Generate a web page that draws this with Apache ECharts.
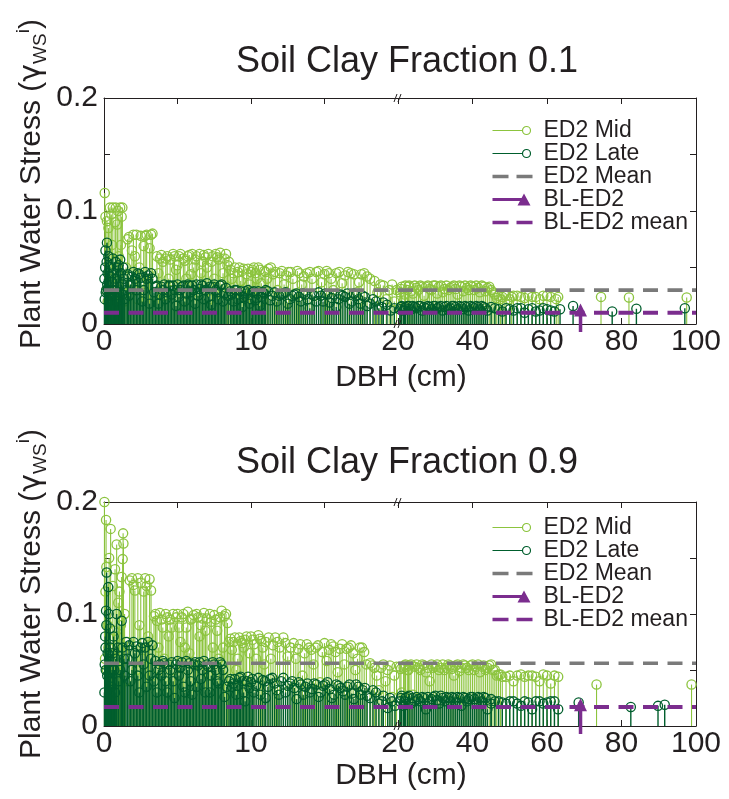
<!DOCTYPE html>
<html>
<head>
<meta charset="utf-8">
<title>Plant water stress vs DBH</title>
<script src="https://cdn.jsdelivr.net/npm/echarts@6/dist/echarts.min.js"></script>
<style>
  html, body { margin: 0; padding: 0; background: #fff; }
  #chart { width: 729px; height: 799px; }
</style>
</head>
<body>
<div id="chart"></div>
<script>
// ---- values, [DBH (cm), water stress] ----
const clay01Mid = [
  [0.05,0.116],[0.1,0.095],[0.15,0.03],[0.2,0.091],[0.25,0.02],[0.3,0.085],[0.4,0.103],[0.45,0.04],[0.55,0.07],[0.6,0.103],
  [0.7,0.025],[0.8,0.103],[0.9,0.088],[1.0,0.06],[1.1,0.103],[1.2,0.095],[1.3,0.035],[1.4,0.02],
  [1.6,0.075],[1.8,0.03],[2.0,0.079],[2.1,0.06],[2.3,0.022],[2.5,0.078],[2.7,0.069],[2.9,0.079],[3.0,0.04],[3.2,0.079],[3.4,0.025],
  [3.6,0.06],[3.8,0.058],[4.0,0.055],[4.1,0.025],[4.3,0.06],[4.5,0.057],[4.6,0.03],[4.8,0.06],[5.0,0.052],[5.2,0.062],
  [5.3,0.02],[5.5,0.056],[5.7,0.06],[5.9,0.044],[6.0,0.062],[6.2,0.057],[6.4,0.028],[6.5,0.062],[6.7,0.055],[6.9,0.059],
  [7.0,0.05],[7.2,0.022],[7.4,0.06],[7.6,0.062],[7.8,0.057],[8.0,0.035],[8.2,0.058],[8.4,0.052],
  [8.6,0.048],[8.8,0.045],[9.0,0.03],[9.2,0.05],[9.4,0.047],[9.6,0.025],[9.8,0.049],[10.0,0.046],[10.2,0.05],[10.4,0.04],
  [10.6,0.048],[10.8,0.02],[11.0,0.046],[11.2,0.049],[11.5,0.044],[11.8,0.03],
  [12.1,0.047],[12.4,0.043],[12.7,0.046],[13.0,0.027],[13.3,0.045],[13.6,0.042],[14.0,0.046],[14.3,0.025],[14.6,0.047],
  [15.0,0.044],[15.3,0.045],[15.6,0.03],[16.0,0.046],[16.4,0.043],[16.8,0.045],[17.2,0.028],[17.5,0.044],[17.9,0.042],
  [18.4,0.038],[18.8,0.035],[19.2,0.022],[19.6,0.035],[19.9,0.03],
  [0.35,0.06],[0.5,0.097],[0.65,0.045],[0.75,0.09],[0.95,0.1],[1.05,0.03],[1.15,0.07],[1.25,0.103],[1.5,0.05],[1.7,0.077],
  [1.9,0.065],[2.2,0.079],[2.4,0.05],[2.6,0.035],[2.8,0.078],[3.1,0.067],[3.3,0.08],[3.7,0.045],[3.9,0.061],[4.2,0.058],
  [4.4,0.04],[4.7,0.062],[4.9,0.048],[5.1,0.06],[5.4,0.058],[5.6,0.04],[5.8,0.061],[6.1,0.05],[6.3,0.06],[6.6,0.045],
  [6.8,0.061],[7.1,0.062],[7.3,0.055],[7.5,0.04],[7.7,0.059],[7.9,0.063],[8.1,0.045],[8.3,0.062],[8.5,0.055],[8.7,0.04],
  [8.9,0.05],[9.1,0.046],[9.3,0.038],[9.5,0.049],[9.7,0.044],[9.9,0.035],[10.1,0.048],[10.3,0.045],[10.5,0.05],[10.7,0.036],
  [10.9,0.047],[11.1,0.04],[11.35,0.05],[11.65,0.046],[11.95,0.045],[12.25,0.035],[12.55,0.046],[12.85,0.04],[13.15,0.047],
  [13.45,0.035],[13.8,0.045],[14.15,0.04],[14.45,0.046],[14.8,0.037],[15.15,0.047],[15.45,0.04],[15.8,0.045],[16.2,0.036],
  [16.6,0.046],[17.0,0.044],[17.35,0.037],[17.7,0.045],[18.1,0.04],[18.6,0.028],[19.0,0.034],[19.4,0.03],[19.75,0.02],
  [20.5,0.028],[21,0.033],[21.5,0.02],[22,0.034],[22.5,0.03],[23,0.034],[24,0.027],[24.5,0.034],[25,0.032],[26,0.034],
  [27,0.025],[27.5,0.033],[28,0.034],[29,0.03],[30,0.034],[31,0.033],[32,0.028],[33,0.034],[34,0.032],[35,0.034],
  [36,0.026],[37,0.033],[38,0.034],[39,0.03],[40,0.033],[41,0.034],[42,0.028],[43,0.033],[44,0.032],[45,0.03],
  [46,0.026],[47,0.025],[48,0.024],[49,0.025],[50,0.022],[51,0.025],[53,0.024],[55,0.025],[57,0.024],[59,0.025],
  [61,0.024],[62.5,0.022],[74.5,0.024],[82,0.0235],[97.5,0.0235],
  [20.8,0.031],[21.8,0.026],[22.8,0.033],[23.5,0.029],[25.5,0.03],[26.5,0.033],[28.5,0.031],[29.5,0.034],[30.5,0.027],
  [31.5,0.034],[32.5,0.031],[33.5,0.03],[34.5,0.033],[35.5,0.031],[36.5,0.034],[37.5,0.029],[38.5,0.032],[39.5,0.034],
  [40.5,0.03],[41.5,0.032],[42.5,0.034],[43.5,0.029],[44.5,0.033],[45.5,0.028],[46.5,0.023],[47.5,0.022],[48.5,0.026],
  [50.5,0.024],[52,0.025],[54,0.023],[56,0.024],[58,0.022],[60,0.025],[63,0.024]
];
const clay01Late = [
  [0.05,0.022],[0.08,0.05],[0.1,0.065],[0.15,0.03],[0.2,0.072],[0.25,0.045],[0.3,0.06],[0.35,0.02],[0.45,0.042],[0.5,0.025],
  [0.6,0.058],[0.7,0.03],[0.8,0.055],[0.9,0.02],[1.0,0.052],[1.1,0.057],[1.2,0.035],[1.3,0.05],[1.4,0.022],
  [1.6,0.044],[1.7,0.025],[1.9,0.042],[2.0,0.046],[2.2,0.03],[2.3,0.045],[2.5,0.041],[2.6,0.02],[2.8,0.046],[3.0,0.043],
  [3.1,0.018],[3.3,0.04],
  [3.6,0.034],[3.7,0.018],[3.9,0.033],[4.1,0.035],[4.2,0.022],[4.4,0.034],[4.6,0.026],[4.7,0.034],[4.9,0.016],[5.0,0.035],
  [5.2,0.03],[5.4,0.034],[5.5,0.02],[5.7,0.035],[5.9,0.028],[6.0,0.034],[6.2,0.018],[6.3,0.035],[6.5,0.031],[6.7,0.034],
  [6.8,0.022],[7.0,0.036],[7.2,0.033],[7.3,0.017],[7.5,0.035],[7.7,0.028],[7.9,0.034],[8.1,0.02],[8.3,0.032],
  [8.6,0.029],[8.8,0.02],[9.0,0.03],[9.2,0.026],[9.4,0.015],[9.6,0.029],[9.8,0.03],[10.0,0.022],[10.2,0.029],[10.4,0.027],
  [10.6,0.016],[10.8,0.028],[11.0,0.03],[11.3,0.021],[11.6,0.028],[11.9,0.025],
  [12.2,0.027],[12.5,0.018],[12.8,0.025],[13.1,0.027],[13.4,0.02],[13.7,0.026],[14.0,0.014],[14.3,0.025],[14.6,0.028],
  [14.9,0.02],[15.2,0.026],[15.5,0.023],[15.8,0.015],[16.1,0.026],[16.4,0.024],[16.7,0.018],[17.0,0.027],[17.3,0.022],
  [17.6,0.025],[17.9,0.016],[18.3,0.022],[18.7,0.014],[19.0,0.019],[19.5,0.012],
  [0.03,0.04],[0.12,0.028],[0.18,0.055],[0.22,0.035],[0.28,0.03],[0.4,0.05],[0.55,0.03],[0.65,0.045],[0.75,0.025],[0.85,0.04],
  [0.95,0.05],[1.05,0.028],[1.15,0.045],[1.25,0.026],[1.35,0.04],[1.5,0.03],[1.65,0.042],[1.8,0.035],[2.1,0.04],[2.4,0.044],
  [2.7,0.03],[2.9,0.04],[3.2,0.045],[3.4,0.028],[3.5,0.033],[3.8,0.026],[4.0,0.03],[4.3,0.028],[4.5,0.034],[4.8,0.03],
  [5.1,0.024],[5.3,0.033],[5.6,0.027],[5.8,0.034],[6.1,0.03],[6.4,0.025],[6.6,0.035],[6.9,0.03],[7.1,0.024],[7.4,0.033],
  [7.6,0.03],[7.8,0.022],[8.0,0.035],[8.2,0.027],[8.45,0.025],[8.7,0.026],[8.9,0.03],[9.1,0.022],[9.3,0.029],[9.5,0.024],
  [9.7,0.027],[9.9,0.018],[10.1,0.028],[10.3,0.021],[10.5,0.029],[10.7,0.024],[10.9,0.027],[11.15,0.029],[11.45,0.025],
  [11.75,0.02],[12.05,0.026],[12.35,0.028],[12.65,0.022],[12.95,0.026],[13.25,0.024],[13.55,0.027],[13.85,0.022],
  [14.15,0.026],[14.45,0.02],[14.75,0.025],[15.05,0.027],[15.35,0.019],[15.65,0.026],[15.95,0.022],[16.25,0.025],
  [16.55,0.027],[16.85,0.02],[17.15,0.025],[17.45,0.018],[17.75,0.024],[18.1,0.018],[18.5,0.02],[18.9,0.015],[19.25,0.017],
  [19.75,0.014],
  [20.5,0.013],[21,0.016],[21.5,0.012],[22,0.015],[23,0.016],[23.5,0.013],[24,0.016],[25,0.014],[26,0.016],[26.5,0.012],
  [27,0.015],[28,0.016],[29,0.013],[30,0.016],[31,0.015],[32,0.012],[33,0.016],[34,0.014],[35,0.016],[36,0.013],
  [37,0.015],[38,0.016],[39,0.012],[40,0.015],[41,0.016],[42,0.013],[43,0.015],[44,0.012],[46,0.014],[48,0.011],
  [50,0.013],[52,0.014],[54,0.01],[56,0.014],[58,0.012],[60,0.013],[62,0.011],[63.5,0.013],[67,0.016],[77.5,0.011],
  [84,0.0135],[97,0.014],
  [20.8,0.015],[21.8,0.014],[22.5,0.016],[24.5,0.015],[25.5,0.016],[27.5,0.014],[28.5,0.015],[29.5,0.016],[30.5,0.014],
  [31.5,0.016],[32.5,0.015],[33.5,0.013],[34.5,0.016],[35.5,0.015],[36.5,0.016],[37.5,0.013],[38.5,0.015],[39.5,0.016],
  [40.5,0.014],[41.5,0.015],[42.5,0.016],[43.5,0.014],[45,0.015],[47,0.013],[49,0.014],[51,0.012],[53,0.014],[55,0.013],
  [57,0.011],[59,0.014],[61,0.012]
];
const clay01BL = [[69, 0.012]];

const clay09Mid = [
  [0.03,0.2],[0.07,0.06],[0.14,0.184],[0.16,0.142],[0.2,0.05],[0.3,0.07],[0.45,0.176],[0.55,0.04],[0.7,0.085],[0.86,0.162],
  [0.97,0.11],[1.1,0.055],[1.2,0.133],[1.27,0.149],[1.3,0.172],[1.32,0.163],[1.45,0.04],
  [1.9,0.132],[2.0,0.126],[2.2,0.05],[2.3,0.132],[2.5,0.128],[2.6,0.06],[2.8,0.132],[2.9,0.125],[3.1,0.131],[3.2,0.121],[3.3,0.045],
  [3.5,0.1],[3.6,0.094],[3.8,0.101],[4.0,0.088],[4.1,0.06],[4.3,0.097],[4.5,0.095],[4.7,0.1],[4.8,0.05],[5.0,0.1],
  [5.1,0.088],[5.3,0.097],[5.5,0.07],[5.7,0.102],[5.9,0.095],[6.1,0.099],[6.2,0.055],[6.4,0.097],[6.6,0.09],[6.8,0.101],
  [7.0,0.096],[7.1,0.045],[7.3,0.093],[7.5,0.099],[7.8,0.06],[8.0,0.103],[8.2,0.098],[8.4,0.092],
  [8.6,0.078],[8.8,0.075],[9.0,0.05],[9.2,0.079],[9.4,0.074],[9.6,0.077],[9.8,0.04],[10.0,0.08],[10.2,0.073],[10.5,0.081],
  [10.7,0.076],[10.9,0.055],[11.2,0.079],[11.5,0.072],[11.8,0.075],[12.2,0.079],[12.5,0.062],
  [12.9,0.074],[13.2,0.069],[13.5,0.045],[13.8,0.073],[14.1,0.068],[14.4,0.07],[14.7,0.039],[15.0,0.074],[15.3,0.068],
  [15.6,0.071],[15.9,0.048],[16.2,0.073],[16.5,0.069],[16.8,0.072],[17.1,0.05],[17.4,0.07],[17.7,0.066],
  [18.1,0.056],[18.4,0.052],[18.7,0.032],[19.0,0.055],[19.3,0.05],[19.6,0.026],[19.9,0.053],
  [0.1,0.12],[0.25,0.09],[0.35,0.15],[0.5,0.065],[0.6,0.125],[0.75,0.14],[0.9,0.08],[1.05,0.12],[1.15,0.09],[1.4,0.1],
  [1.6,0.075],[1.75,0.13],[2.1,0.121],[2.4,0.09],[2.7,0.12],[3.0,0.08],[3.4,0.098],[3.7,0.07],[3.9,0.095],[4.2,0.1],
  [4.4,0.08],[4.6,0.088],[4.9,0.097],[5.2,0.075],[5.4,0.1],[5.6,0.088],[5.8,0.065],[6.0,0.096],[6.3,0.1],[6.5,0.08],
  [6.7,0.096],[6.9,0.085],[7.2,0.1],[7.4,0.07],[7.6,0.095],[7.7,0.085],[7.9,0.097],[8.1,0.07],[8.3,0.1],[8.5,0.075],
  [8.7,0.068],[8.9,0.079],[9.1,0.06],[9.3,0.076],[9.5,0.07],[9.7,0.08],[9.9,0.065],[10.1,0.077],[10.35,0.06],[10.6,0.078],
  [10.8,0.07],[11.0,0.075],[11.35,0.06],[11.65,0.079],[11.95,0.07],[12.35,0.074],[12.7,0.07],[13.05,0.06],[13.35,0.073],
  [13.65,0.065],[13.95,0.07],[14.25,0.055],[14.55,0.072],[14.85,0.066],[15.15,0.058],[15.45,0.073],[15.75,0.066],
  [16.05,0.069],[16.35,0.055],[16.65,0.07],[16.95,0.065],[17.25,0.06],[17.55,0.07],[17.85,0.055],[18.25,0.054],
  [18.55,0.045],[18.85,0.052],[19.15,0.04],[19.45,0.054],[19.75,0.045],
  [20.5,0.053],[21,0.03],[21.5,0.052],[22,0.055],[22.5,0.05],[23,0.054],[24,0.028],[24.5,0.053],[25,0.055],[26,0.05],
  [27,0.054],[28,0.052],[28.5,0.04],[29,0.055],[30,0.053],[31,0.05],[32,0.055],[33,0.052],[34,0.054],[35,0.045],
  [36,0.055],[37,0.052],[38,0.054],[39,0.05],[40,0.055],[41,0.053],[42,0.048],[43,0.054],[44,0.052],[45,0.055],
  [46,0.05],[47,0.046],[48,0.044],[50,0.045],[51,0.04],[52,0.045],[54,0.044],[55,0.045],[57,0.044],[58,0.04],
  [60,0.045],[61,0.038],[62,0.045],[73.3,0.037],[98.8,0.037],
  [20.8,0.051],[21.8,0.054],[22.8,0.05],[23.5,0.055],[25.5,0.052],[26.5,0.055],[27.5,0.048],[29.5,0.052],[30.5,0.055],
  [31.5,0.052],[32.5,0.05],[33.5,0.055],[34.5,0.051],[35.5,0.054],[36.5,0.049],[37.5,0.055],[38.5,0.052],[39.5,0.054],
  [40.5,0.05],[41.5,0.055],[42.5,0.053],[43.5,0.05],[44.5,0.054],[45.5,0.05],[46.5,0.045],[47.5,0.046],[49,0.044],
  [53,0.046],[56,0.045],[59,0.046],[63,0.044]
];
const clay09Late = [
  [0.05,0.055],[0.1,0.07],[0.14,0.103],[0.18,0.137],[0.22,0.045],[0.29,0.124],[0.35,0.06],[0.41,0.087],[0.5,0.035],[0.6,0.065],
  [0.7,0.05],[0.86,0.1],[1.0,0.04],[1.2,0.094],[1.35,0.06],
  [1.5,0.075],[1.7,0.072],[1.8,0.04],[2.0,0.075],[2.2,0.071],[2.4,0.03],[2.6,0.074],[2.8,0.07],[3.0,0.075],[3.1,0.045],[3.3,0.072],
  [3.5,0.058],[3.6,0.03],[3.8,0.055],[4.0,0.058],[4.2,0.04],[4.4,0.055],[4.6,0.057],[4.8,0.025],[5.0,0.058],[5.2,0.052],
  [5.4,0.035],[5.6,0.058],[5.8,0.056],[6.0,0.028],[6.2,0.057],[6.4,0.054],[6.6,0.042],[6.8,0.058],[7.0,0.055],[7.2,0.03],
  [7.4,0.057],[7.6,0.05],[7.8,0.038],[8.0,0.055],[8.2,0.026],
  [8.6,0.042],[8.8,0.038],[9.0,0.028],[9.2,0.043],[9.4,0.04],[9.6,0.022],[9.8,0.044],[10.0,0.039],[10.2,0.03],[10.5,0.043],
  [10.8,0.041],[11.0,0.025],[11.3,0.042],[11.6,0.038],[11.9,0.028],[12.2,0.043],[12.5,0.036],
  [12.8,0.04],[13.1,0.024],[13.4,0.037],[13.7,0.035],[14.0,0.03],[14.3,0.038],[14.6,0.026],[14.9,0.036],[15.2,0.039],
  [15.5,0.025],[15.8,0.037],[16.1,0.034],[16.4,0.028],[16.7,0.037],[17.0,0.024],[17.3,0.035],[17.6,0.032],[17.9,0.027],
  [18.3,0.032],[18.7,0.02],[19.0,0.027],[19.3,0.016],[19.6,0.022],
  [0.03,0.03],[0.08,0.08],[0.12,0.05],[0.16,0.09],[0.25,0.065],[0.32,0.1],[0.38,0.04],[0.45,0.07],[0.55,0.05],[0.65,0.08],
  [0.75,0.03],[0.8,0.06],[0.95,0.07],[1.1,0.05],[1.25,0.07],[1.4,0.045],[1.6,0.06],[1.9,0.05],[2.1,0.065],[2.3,0.045],
  [2.5,0.07],[2.7,0.055],[2.9,0.035],[3.2,0.06],[3.4,0.04],[3.7,0.05],[3.9,0.045],[4.1,0.056],[4.3,0.03],[4.5,0.05],
  [4.7,0.04],[4.9,0.055],[5.1,0.045],[5.3,0.057],[5.5,0.03],[5.7,0.05],[5.9,0.04],[6.1,0.055],[6.3,0.035],[6.5,0.057],
  [6.7,0.05],[6.9,0.03],[7.1,0.053],[7.3,0.045],[7.5,0.055],[7.7,0.04],[7.9,0.057],[8.1,0.05],[8.35,0.035],[8.5,0.04],
  [8.7,0.035],[8.9,0.042],[9.1,0.036],[9.3,0.044],[9.5,0.03],[9.7,0.04],[9.9,0.034],[10.1,0.042],[10.35,0.036],
  [10.65,0.028],[10.95,0.04],[11.15,0.035],[11.45,0.043],[11.75,0.032],[12.05,0.04],[12.35,0.03],[12.65,0.038],
  [12.95,0.034],[13.25,0.039],[13.55,0.028],[13.85,0.038],[14.15,0.033],[14.45,0.037],[14.75,0.03],[15.05,0.037],
  [15.35,0.033],[15.65,0.028],[15.95,0.036],[16.25,0.031],[16.55,0.035],[16.85,0.029],[17.15,0.037],[17.45,0.028],
  [17.75,0.034],[18.1,0.025],[18.5,0.03],[18.9,0.022],[19.45,0.025],[19.8,0.018],
  [20.5,0.022],[21,0.027],[21.5,0.018],[22,0.025],[23,0.027],[23.5,0.02],[24,0.025],[25,0.026],[26,0.022],[27,0.025],
  [27.5,0.015],[28,0.026],[29,0.024],[30,0.027],[31,0.02],[32,0.025],[33,0.026],[34,0.022],[35,0.025],[36,0.026],
  [37,0.018],[38,0.025],[39,0.024],[40,0.026],[41,0.021],[42,0.025],[43,0.026],[44,0.015],[45,0.024],[46,0.022],
  [48,0.021],[50,0.022],[52,0.02],[54,0.022],[56,0.015],[58,0.022],[60,0.021],[62,0.022],[63,0.015],[68.5,0.021],
  [82.5,0.017],[89.8,0.018],[91.6,0.019],
  [20.8,0.025],[21.8,0.022],[22.5,0.026],[24.5,0.022],[25.5,0.024],[26.5,0.026],[28.5,0.022],[29.5,0.026],[30.5,0.023],
  [31.5,0.027],[32.5,0.022],[33.5,0.025],[34.5,0.026],[35.5,0.021],[36.5,0.025],[37.5,0.026],[38.5,0.022],[39.5,0.026],
  [40.5,0.024],[41.5,0.026],[42.5,0.022],[43.5,0.025],[45,0.02],[47,0.022],[49,0.02],[51,0.022],[53,0.018],[55,0.021],
  [57,0.022],[59,0.02],[61,0.022]
];
const clay09BL = [[69, 0.0185]];

const panelTitles = ['Soil Clay Fraction 0.1', 'Soil Clay Fraction 0.9'];
const meanED2 = [0.030, 0.056];
const meanBL = [0.010, 0.017];
const xBreak = 20;            // DBH where the axis changes scale
const xRange = [0, 100];
const xTicksLeft = [0, 10, 20];
const xTicksRight = [40, 60, 80, 100];
const yTickLabels = [0, 0.1, 0.2];

// ---- layout ----
const FONT = '"Liberation Sans", Arial, Helvetica, sans-serif';
const INK = '#231f20';
const C_MID = '#8cc43e';
const C_LATE = '#005e2d';
const C_MEAN = '#7a7a7a';
const C_BL = '#7b2d8e';
const plotLeft = 104, plotBreak = 398, plotRight = 696;
const panels = [
  { mid: clay01Mid, late: clay01Late, bl: clay01BL, top: 98, height: 226, titleY: 62, nameY: 378, labelY: 184, legendTop: 119 },
  { mid: clay09Mid, late: clay09Late, bl: clay09BL, top: 502, height: 224, titleY: 463, nameY: 776, labelY: 594, legendTop: 516 }
];

function stemRender(color, stemWidth, radius) {
  return function (params, api) {
    const top = api.coord([api.value(0), api.value(1)]);
    const base = api.coord([api.value(0), 0]);
    return {
      type: 'group',
      children: [
        { type: 'line', shape: { x1: top[0], y1: base[1], x2: top[0], y2: top[1] }, style: { stroke: color, lineWidth: stemWidth } },
        { type: 'circle', shape: { cx: top[0], cy: top[1], r: radius }, style: { fill: 'none', stroke: color, lineWidth: 1.3 } }
      ]
    };
  };
}

function triangleStemRender(params, api) {
  const top = api.coord([api.value(0), api.value(1)]);
  const base = api.coord([api.value(0), 0]);
  return {
    type: 'group',
    children: [
      { type: 'line', shape: { x1: top[0], y1: base[1] + 8, x2: top[0], y2: top[1] }, style: { stroke: C_BL, lineWidth: 3.5 } },
      { type: 'polygon', shape: { points: [[top[0] - 6.5, top[1] + 6], [top[0], top[1] - 7], [top[0] + 6.5, top[1] + 6]] }, style: { fill: C_BL } }
    ]
  };
}

const grids = [], xAxes = [], yAxes = [], series = [], graphics = [], legends = [];

const axisLineStyle = { show: true, lineStyle: { color: INK, width: 1 } };
const tickStyle = { show: true, inside: true, length: 6, lineStyle: { color: INK, width: 1 } };
const labelStyle = { fontFamily: FONT, fontSize: 30, color: INK };

panels.forEach(function (p, i) {
  const gL = grids.length, gR = gL + 1;
  grids.push(
    { left: plotLeft, top: p.top, width: plotBreak - plotLeft, height: p.height, outerBoundsMode: 'none' },
    { left: plotBreak, top: p.top, width: plotRight - plotBreak, height: p.height, outerBoundsMode: 'none' }
  );
  const xL = xAxes.length, xR = xL + 1;
  xAxes.push(
    { type: 'value', gridIndex: gL, position: 'bottom', min: xRange[0], max: xBreak, interval: 5,
      axisLine: axisLineStyle, axisTick: tickStyle, splitLine: { show: false },
      axisLabel: Object.assign({ margin: 3, formatter: v => xTicksLeft.indexOf(v) >= 0 ? String(v) : '' }, labelStyle) },
    { type: 'value', gridIndex: gR, position: 'bottom', min: xBreak, max: xRange[1], interval: 20,
      axisLine: axisLineStyle, axisTick: tickStyle, splitLine: { show: false },
      axisLabel: Object.assign({ margin: 3, formatter: v => xTicksRight.indexOf(v) >= 0 ? String(v) : '' }, labelStyle) },
    { type: 'value', gridIndex: gL, position: 'top', min: xRange[0], max: xBreak, interval: 5,
      axisLine: axisLineStyle, axisTick: tickStyle, splitLine: { show: false }, axisLabel: { show: false } },
    { type: 'value', gridIndex: gR, position: 'top', min: xBreak, max: xRange[1], interval: 20,
      axisLine: axisLineStyle, axisTick: tickStyle, splitLine: { show: false }, axisLabel: { show: false } }
  );
  const yL = yAxes.length, yR = yL + 1;
  yAxes.push(
    { type: 'value', gridIndex: gL, position: 'left', min: 0, max: 0.2, interval: 0.05,
      axisLine: axisLineStyle, axisTick: tickStyle, splitLine: { show: false },
      axisLabel: Object.assign({ margin: 6, formatter: v => yTickLabels.some(t => Math.abs(t - v) < 1e-9) ? String(+v.toFixed(2)) : '' }, labelStyle) },
    { type: 'value', gridIndex: gR, position: 'right', min: 0, max: 0.2, interval: 0.05,
      axisLine: axisLineStyle, axisTick: tickStyle, splitLine: { show: false }, axisLabel: { show: false } }
  );

  const sides = [
    { x: xL, y: yL, keep: d => d[0] <= xBreak, span: [xRange[0], xBreak] },
    { x: xR, y: yR, keep: d => d[0] > xBreak, span: [xBreak, xRange[1]] }
  ];
  // stems: mid first, late on top
  [['ED2 Mid', p.mid, C_MID, 1.1], ['ED2 Late', p.late, C_LATE, 1.4]].forEach(function (s) {
    sides.forEach(function (side) {
      series.push({
        name: s[0], type: 'custom', xAxisIndex: side.x, yAxisIndex: side.y,
        itemStyle: { color: s[2] }, encode: { x: 0, y: 1 },
        data: s[1].filter(side.keep), renderItem: stemRender(s[2], s[3], 4.6)
      });
    });
  });
  sides.forEach(function (side) {
    series.push({
      name: 'ED2 Mean', type: 'line', xAxisIndex: side.x, yAxisIndex: side.y, symbol: 'none', z: 3,
      itemStyle: { color: C_MEAN }, lineStyle: { color: C_MEAN, width: 3.6, type: [15, 9.5] },
      data: [[side.span[0], meanED2[i]], [side.span[1], meanED2[i]]]
    });
  });
  sides.forEach(function (side) {
    series.push({
      name: 'BL-ED2', type: 'custom', xAxisIndex: side.x, yAxisIndex: side.y, z: 4,
      itemStyle: { color: C_BL }, encode: { x: 0, y: 1 },
      data: p.bl.filter(side.keep), renderItem: triangleStemRender
    });
  });
  sides.forEach(function (side) {
    series.push({
      name: 'BL-ED2 mean', type: 'line', xAxisIndex: side.x, yAxisIndex: side.y, symbol: 'none', z: 5,
      itemStyle: { color: C_BL }, lineStyle: { color: C_BL, width: 4, type: [15, 9.5] },
      data: [[side.span[0], meanBL[i]], [side.span[1], meanBL[i]]]
    });
  });

  const stemIcon = 'path://M0,0M46,12M0,6L30,6M38,6A4,4,0,1,1,30,6A4,4,0,1,1,38,6';
  const dashIcon = 'path://M0,0M46,12M0,4.2h16v3.6h-16zM24,4.2h16v3.6h-16z';
  const triIcon = 'path://M0,0M46,12M0,4.5h30v3h-30zM25,12L31.5,0L38,12Z';
  legends.push({
    left: 490, top: p.legendTop, orient: 'vertical', itemGap: 0, itemWidth: 46, itemHeight: 12,
    selectedMode: false, padding: 0,
    textStyle: { fontFamily: FONT, fontSize: 23, color: INK, lineHeight: 21.5 },
    data: [
      { name: 'ED2 Mid', icon: stemIcon, itemStyle: { color: 'none', borderColor: C_MID, borderWidth: 1.2 } },
      { name: 'ED2 Late', icon: stemIcon, itemStyle: { color: 'none', borderColor: C_LATE, borderWidth: 1.2 } },
      { name: 'ED2 Mean', icon: dashIcon, itemStyle: { color: C_MEAN, borderWidth: 0 } },
      { name: 'BL-ED2', icon: triIcon, itemStyle: { color: C_BL, borderWidth: 0 } },
      { name: 'BL-ED2 mean', icon: dashIcon, itemStyle: { color: C_BL, borderWidth: 0 } }
    ]
  });

  // titles, axis names and the axis-break marks
  graphics.push(
    { type: 'text', x: 407, y: p.titleY, style: { text: panelTitles[i], font: '36px ' + FONT, fill: INK, align: 'center', verticalAlign: 'middle' } },
    { type: 'text', x: 401, y: p.nameY, style: { text: 'DBH (cm)', font: '30px ' + FONT, fill: INK, align: 'center', verticalAlign: 'middle' } },
    { type: 'text', x: 32, y: p.labelY, rotation: Math.PI / 2,
      style: {
        text: 'Plant Water Stress ({g|γ}{sub|WS}{sup|i})', font: '30px ' + FONT, fill: INK, align: 'center', verticalAlign: 'middle', lineHeight: 36,
        rich: {
          g: { fontSize: 30, fontFamily: '"DejaVu Sans", sans-serif', fill: INK, lineHeight: 36 },
          sub: { fontSize: 19, fontFamily: FONT, fill: INK, lineHeight: 19, verticalAlign: 'bottom' },
          sup: { fontSize: 19, fontFamily: FONT, fill: INK, lineHeight: 19, verticalAlign: 'top' }
        }
      } }
  );
  [p.top, p.top + p.height].forEach(function (yy) {
    graphics.push(
      { type: 'line', shape: { x1: plotBreak - 4, y1: yy + 4, x2: plotBreak - 1, y2: yy - 4 }, style: { stroke: INK, lineWidth: 1 }, z: 100 },
      { type: 'line', shape: { x1: plotBreak + 0, y1: yy + 4, x2: plotBreak + 3, y2: yy - 4 }, style: { stroke: INK, lineWidth: 1 }, z: 100 }
    );
  });
});

const myChart = echarts.init(document.getElementById('chart'), null, { renderer: 'canvas' });
myChart.setOption({
  animation: false,
  backgroundColor: '#fff',
  grid: grids,
  xAxis: xAxes,
  yAxis: yAxes,
  legend: legends,
  series: series,
  graphic: graphics
});
</script>
</body>
</html>
